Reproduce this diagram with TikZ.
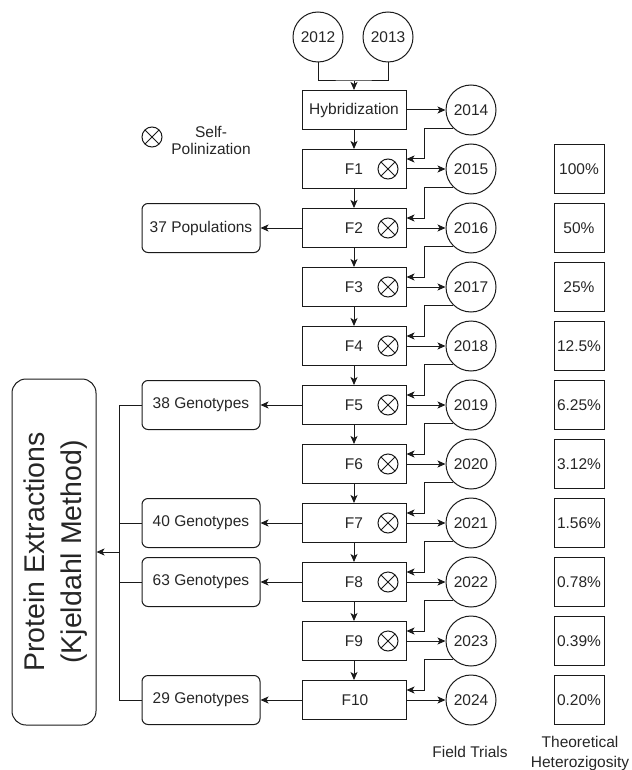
\documentclass[tikz,border=0pt]{standalone}
\usepackage{fontspec}
\setmainfont{Liberation Sans}
\usetikzlibrary{arrows.meta}
\definecolor{ink}{HTML}{262626}
\definecolor{ln}{HTML}{1A1A1A}
\begin{document}
\begin{tikzpicture}[x=1pt,y=-1pt,
  every node/.style={text=ink, font=\fontsize{15.5}{18}\selectfont},
  yr/.style={circle, draw=ln, line width=1pt, minimum size=50pt, inner sep=0pt},
  fbox/.style={rectangle, draw=ln, line width=1pt, minimum width=104pt, minimum height=39pt, inner sep=0pt},
  gbox/.style={rectangle, rounded corners=6pt, draw=ln, line width=1pt, minimum width=118pt, minimum height=49pt, inner sep=0pt},
  hbox/.style={rectangle, draw=ln, line width=1pt, minimum width=50pt, minimum height=49pt, inner sep=0pt},
  selfsym/.style={circle, draw=ln, line width=1pt, minimum size=20pt, inner sep=0pt,
    path picture={\draw[ln, line width=1pt] (path picture bounding box.north west) -- (path picture bounding box.south east)
      (path picture bounding box.north east) -- (path picture bounding box.south west);}},
  arr/.style={draw=ln, line width=1pt, -{Stealth[length=8pt,width=7pt,inset=2pt]}},
  ln/.style={draw=ln, line width=1pt}
]
\useasboundingbox (0,0) rectangle (631,770);

% top parents
\node[yr] (y2012) at (318,37) {2012};
\node[yr] (y2013) at (388,37) {2013};
\node[fbox] (H) at (354,110) {Hybridization};
\coordinate (join) at (354,81);
\draw[ln] (y2012.south) |- (join) -| (y2013.south);
\draw[arr] (join) -- (H.north);

% legend
\node[selfsym] (leg) at (152,137) {};
\node[align=center, font=\fontsize{15.5}{17}\selectfont] (legt) at (211,140) {Self-\\Polinization};

% generations
\foreach \i/\yy/\yr/\hz in {1/169/2015/100\%, 2/228/2016/50\%, 3/287/2017/25\%, 4/346/2018/12.5\%, 5/405/2019/6.25\%, 6/464/2020/3.12\%, 7/523/2021/1.56\%, 8/582/2022/0.78\%, 9/641/2023/0.39\%, 10/700/2024/0.20\%}{
  \node[fbox] (F\i) at (354,\yy) {};
  \node[yr] (y\yr) at (471,\yy) {\yr};
  \node[hbox] (h\i) at (579,\yy) {\hz};
  \draw[arr] (F\i.east) -- (y\yr.west);
}
\foreach \i in {1,...,9}{
  \node (Ft\i) at (354,{110+59*\i}) {F\i};
  \node[selfsym] (S\i) at (388,{110+59*\i}) {};
}
\node (Ft10) at (355,700) {F10};

\node[yr] (y2014) at (471,110) {2014};
\draw[arr] (H.east) -- (y2014.west);

% down arrows
\draw[arr] (H.south) -- (F1.north);
\foreach \a/\b in {1/2,2/3,3/4,4/5,5/6,6/7,7/8,8/9,9/10}{
  \draw[arr] (F\a.south) -- (F\b.north);
}

% feedback arrows from field trials
\foreach \c/\f in {2014/1,2015/2,2016/3,2017/4,2018/5,2019/6,2020/7,2021/8,2022/9,2023/10}{
  \draw[arr] (y\c.south west) -- ++(-28,0) |- ([yshift=10pt]F\f.east);
}

% left boxes
\node[gbox] (P37) at (201,228) {37 Populations};
\node[gbox] (G38) at (201,405) {38 Genotypes};
\node[gbox] (G40) at (201,523) {40 Genotypes};
\node[gbox] (G63) at (201,582) {63 Genotypes};
\node[gbox] (G29) at (201,700) {29 Genotypes};
\draw[arr] (F2.west) -- (P37.east);
\draw[arr] (F5.west) -- (G38.east);
\draw[arr] (F7.west) -- (G40.east);
\draw[arr] (F8.west) -- (G63.east);
\draw[arr] (F10.west) -- (G29.east);

% protein extraction box
\node[rectangle, rounded corners=14pt, draw=ln, line width=1pt, minimum width=84pt, minimum height=346pt, inner sep=0pt] (PE) at (54,552) {};
\node[rotate=90, align=center, font=\fontsize{28.5}{37}\selectfont] (PEt) at (56,552) {Protein Extractions\\(Kjeldahl Method)};

\coordinate (busT) at (119,405);
\coordinate (busB) at (119,700);
\coordinate (busM) at (119,552);
\draw[ln] (G38.west) -- (busT) -- (busB) -- (G29.west);
\draw[ln] (G40.west) -- (G40.west -| busT);
\draw[ln] (G63.west) -- (G63.west -| busT);
\draw[arr] (busM) -- (PE.east |- busM);

% bottom labels
\node (ft) at (470,752) {Field Trials};
\node[align=center, font=\fontsize{15.5}{20}\selectfont] (th) at (580,753) {Theoretical\\Heterozigosity};
\end{tikzpicture}
\end{document}
